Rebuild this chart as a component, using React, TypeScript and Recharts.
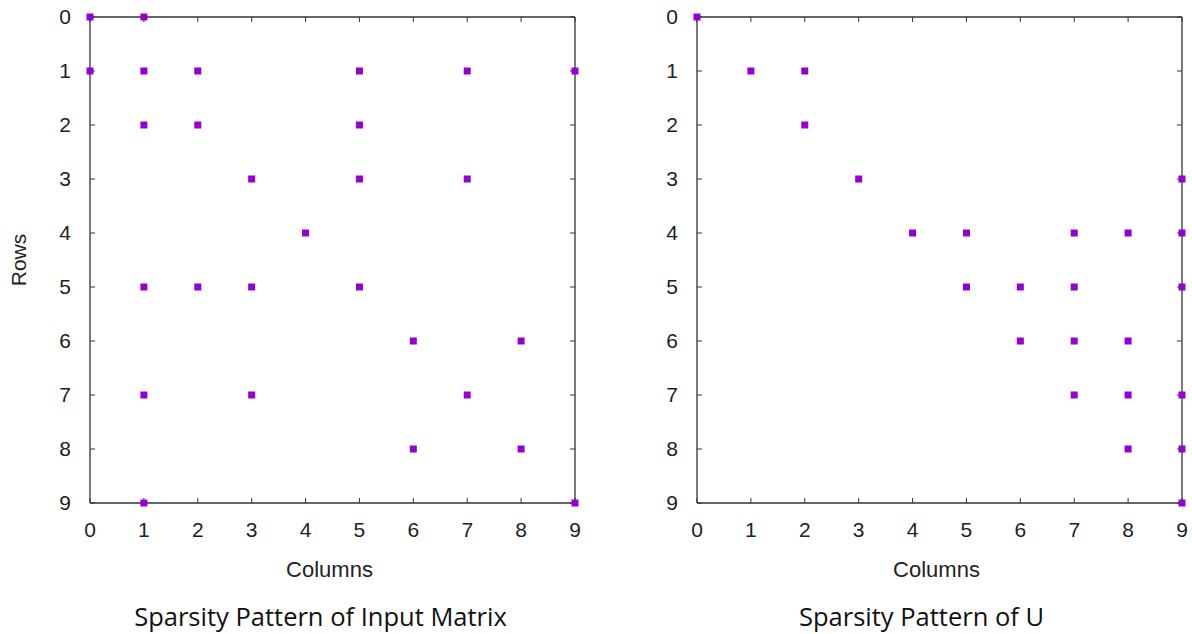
import { Scatter, ScatterChart, XAxis, YAxis } from "recharts";

const ticks = [0, 1, 2, 3, 4, 5, 6, 7, 8, 9];

// non-zero entries of the input matrix (column, row)
const inputCols = [0, 1, 0, 1, 2, 5, 7, 9, 1, 2, 5, 3, 5, 7, 4, 1, 2, 3, 5, 6, 8, 1, 3, 7, 6, 8, 1, 9];
const inputRows = [0, 0, 1, 1, 1, 1, 1, 1, 2, 2, 2, 3, 3, 3, 4, 5, 5, 5, 5, 6, 6, 7, 7, 7, 8, 8, 9, 9];

// non-zero entries of U
const uCols = [0, 1, 2, 2, 3, 9, 4, 5, 7, 8, 9, 5, 6, 7, 9, 6, 7, 8, 7, 8, 9, 8, 9, 9];
const uRows = [0, 1, 1, 2, 3, 3, 4, 4, 4, 4, 4, 5, 5, 5, 5, 6, 6, 6, 7, 7, 7, 8, 8, 9];

const toPoints = (cols: number[], rows: number[]) =>
  cols.map((c, i) => ({ col: c, row: rows[i] }));

const axisColor = "#333";
const sans = "Liberation Sans, Arial, sans-serif";
const tickFont = { fill: "#222", fontSize: 21, fontFamily: sans };

const Square = (props: any) => {
  const { cx, cy } = props;
  if (cx == null || cy == null) return null;
  return <rect x={cx - 3.5} y={cy - 3.5} width={7} height={7} fill="#9400d3" />;
};

const Nothing = () => null;

type PanelProps = {
  left: number;
  width: number;
  yWidth: number;
  right: number;
  data: { col: number; row: number }[];
  title: string;
  titleShift: number;
  showRows: boolean;
};

const Panel = ({ left, width, yWidth, right, data, title, titleShift, showRows }: PanelProps) => {
  const bottomLabel = (props: any) => {
    const vb = props.viewBox || {};
    const cx = vb.x + vb.width / 2;
    return (
      <g>
        <text x={cx - 3} y={577} textAnchor="middle" fontSize={22} fill="#222"
          fontFamily={sans}>Columns</text>
        <text x={cx + titleShift} y={626} textAnchor="middle" fontSize={25.5} fill="#111"
          fontFamily="Open Sans, sans-serif">{title}</text>
      </g>
    );
  };
  const rowsLabel = (props: any) => {
    const vb = props.viewBox || {};
    const cy = vb.y + vb.height / 2;
    return (
      <text x={26} y={cy} transform={`rotate(-90 26 ${cy})`} textAnchor="middle" fontSize={21}
        fill="#222" fontFamily={sans}>Rows</text>
    );
  };
  return (
    <div style={{ position: "absolute", left, top: 0 }}>
      <ScatterChart width={width} height={634} margin={{ top: 16, right: right - 1, bottom: 71, left: 0 }}>
        <XAxis xAxisId="b" type="number" dataKey="col" domain={[0, 9]} ticks={ticks}
          height={60} tickSize={-5} tickMargin={24} tick={tickFont}
          axisLine={{ stroke: axisColor, strokeWidth: 1.3 }} tickLine={{ stroke: axisColor }}
          label={{ content: bottomLabel }} />
        <XAxis xAxisId="t" orientation="top" type="number" dataKey="col" domain={[0, 9]}
          ticks={ticks} height={1} tickSize={-5} tickFormatter={() => ""}
          axisLine={{ stroke: axisColor, strokeWidth: 1.3 }} tickLine={{ stroke: axisColor }} />
        <YAxis yAxisId="l" type="number" dataKey="row" domain={[0, 9]} reversed ticks={ticks}
          width={yWidth} tickSize={-5} tickMargin={24} tick={tickFont}
          axisLine={{ stroke: axisColor, strokeWidth: 1.3 }} tickLine={{ stroke: axisColor }}
          label={showRows ? { content: rowsLabel } : undefined} />
        <YAxis yAxisId="r" orientation="right" type="number" dataKey="row" domain={[0, 9]}
          reversed ticks={ticks} width={1} tickSize={-5} tickFormatter={() => ""}
          axisLine={{ stroke: axisColor, strokeWidth: 1.3 }} tickLine={{ stroke: axisColor }} />
        <Scatter xAxisId="t" yAxisId="r" data={data} shape={Nothing} isAnimationActive={false} />
        <Scatter xAxisId="b" yAxisId="l" data={data} shape={Square} isAnimationActive={false} />
      </ScatterChart>
    </div>
  );
};

export default function App() {
  return (
    <div style={{ position: "absolute", left: 0, top: 0, width: 1192, height: 634, background: "#fff" }}>
      <Panel left={0} width={596} yWidth={90} right={21} data={toPoints(inputCols, inputRows)}
        title="Sparsity Pattern of Input Matrix" titleShift={-12} showRows />
      <Panel left={596} width={596} yWidth={101} right={10} data={toPoints(uCols, uRows)}
        title="Sparsity Pattern of U" titleShift={-18} showRows={false} />
    </div>
  );
}
